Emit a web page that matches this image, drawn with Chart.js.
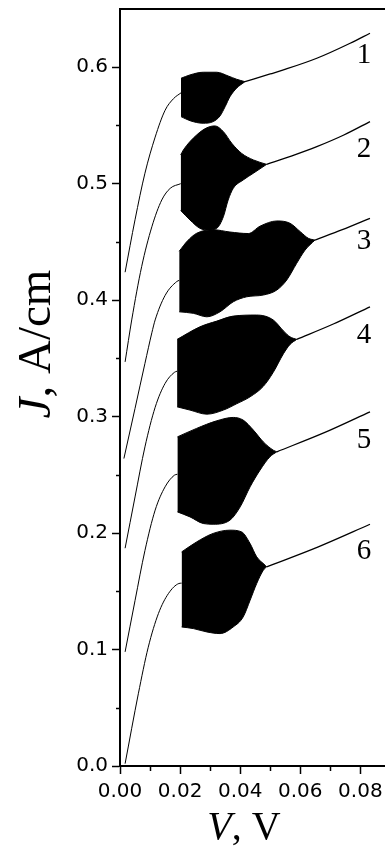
<!DOCTYPE html>
<html><head><meta charset="utf-8">
<script src="https://cdn.jsdelivr.net/npm/chart.js@4.4.0/dist/chart.umd.min.js"></script>
<style>html,body{margin:0;padding:0;background:#fff}canvas{display:block}</style>
</head><body>
<canvas id="c" width="385" height="846"></canvas>
<script>
// ---- axis ticks ----
const yTickValues = [0.0, 0.1, 0.2, 0.3, 0.4, 0.5, 0.6];
const yTickLabels = ['0.0', '0.1', '0.2', '0.3', '0.4', '0.5', '0.6'];
const yMinorTicks = [0.05, 0.15, 0.25, 0.35, 0.45, 0.55];
const xTickValues = [0.00, 0.02, 0.04, 0.06, 0.08];
const xTickLabels = ['0.00', '0.02', '0.04', '0.06', '0.08'];
const xMinorTicks = [0.01, 0.03, 0.05, 0.07];

// ---- curve 1 ----
const rise1  = [[0.0017,0.424],[0.005,0.469],[0.0083,0.509],[0.0117,0.540],[0.015,0.563],[0.0178,0.573],[0.0203,0.578]];
const upper1 = [[0.0203,0.5905],[0.0233,0.5934],[0.0277,0.5957],[0.0322,0.5957],[0.036,0.5925],[0.0388,0.5897],[0.0416,0.5876]];
const lower1 = [[0.0203,0.5576],[0.0233,0.5541],[0.0277,0.5519],[0.031,0.5533],[0.0333,0.5582],[0.035,0.5662],[0.0366,0.5747],[0.0388,0.582],[0.0416,0.5876]];
const tail1  = [[0.0416,0.5876],[0.05,0.5942],[0.0544,0.5977],[0.0655,0.6077],[0.0766,0.6206],[0.0832,0.6292]];
// ---- curve 2 ----
const rise2  = [[0.0017,0.347],[0.0039,0.383],[0.0072,0.4287],[0.0106,0.463],[0.0139,0.486],[0.0167,0.496],[0.0202,0.500]];
const upper2 = [[0.0202,0.5247],[0.0211,0.529],[0.0255,0.5418],[0.0289,0.548],[0.0316,0.5496],[0.0344,0.5447],[0.0372,0.5347],[0.0405,0.526],[0.0444,0.5204],[0.0488,0.5166]];
const lower2 = [[0.0202,0.477],[0.0233,0.4688],[0.0266,0.4617],[0.0294,0.4602],[0.0322,0.4617],[0.0344,0.4716],[0.036,0.486],[0.0377,0.496],[0.041,0.5032],[0.0444,0.509],[0.0488,0.5166]];
const tail2  = [[0.0488,0.5166],[0.057,0.5237],[0.0655,0.5318],[0.0745,0.5418],[0.0832,0.5533]];
// ---- curve 3 ----
const rise3  = [[0.0013,0.264],[0.005,0.307],[0.0083,0.3457],[0.0106,0.372],[0.0117,0.383],[0.015,0.404],[0.0189,0.416],[0.0197,0.417]];
const upper3 = [[0.0197,0.442],[0.0225,0.451],[0.0255,0.4574],[0.031,0.4605],[0.0366,0.4585],[0.0427,0.4572],[0.0466,0.4635],[0.0522,0.468],[0.0566,0.466],[0.06,0.4588],[0.0627,0.4531],[0.0649,0.4516]];
const lower3 = [[0.0197,0.390],[0.0244,0.3887],[0.0289,0.3857],[0.0333,0.39],[0.0377,0.3986],[0.0422,0.4029],[0.0477,0.4044],[0.0522,0.4087],[0.0555,0.4173],[0.0588,0.4316],[0.0616,0.443],[0.0649,0.4516]];
const tail3  = [[0.0649,0.4516],[0.074,0.4605],[0.0832,0.4703]];
// ---- curve 4 ----
const rise4  = [[0.0017,0.187],[0.005,0.231],[0.0083,0.274],[0.0117,0.308],[0.015,0.3285],[0.0181,0.338],[0.019,0.339]];
const upper4 = [[0.019,0.3663],[0.0266,0.3771],[0.0322,0.382],[0.0377,0.3863],[0.0455,0.3872],[0.051,0.383],[0.0544,0.3736],[0.0566,0.3685],[0.0588,0.3663]];
const lower4 = [[0.019,0.3084],[0.0233,0.3056],[0.0289,0.3021],[0.0344,0.3056],[0.0388,0.311],[0.0433,0.317],[0.0477,0.326],[0.051,0.338],[0.0544,0.354],[0.0566,0.362],[0.0588,0.3663]];
const tail4  = [[0.0588,0.3663],[0.071,0.3795],[0.0832,0.3943]];
// ---- curve 5 ----
const rise5  = [[0.0017,0.098],[0.005,0.142],[0.0083,0.185],[0.0117,0.2197],[0.015,0.2397],[0.0181,0.2497],[0.0191,0.2505]];
const upper5 = [[0.0191,0.2826],[0.0255,0.2899],[0.0322,0.2964],[0.0377,0.2993],[0.041,0.297],[0.0444,0.2884],[0.0477,0.2783],[0.051,0.2712],[0.0522,0.2698]];
const lower5 = [[0.0191,0.2182],[0.0233,0.2139],[0.0277,0.2082],[0.031,0.2076],[0.0366,0.2111],[0.04,0.2225],[0.0433,0.2397],[0.0466,0.254],[0.0499,0.2655],[0.0522,0.2698]];
const tail5  = [[0.0522,0.2698],[0.068,0.2862],[0.0832,0.3041]];
// ---- curve 6 ----
const rise6  = [[0.0017,0.002],[0.0061,0.062],[0.0094,0.102],[0.0128,0.131],[0.0161,0.148],[0.0196,0.1567],[0.0205,0.157]];
const upper6 = [[0.0205,0.1838],[0.0255,0.1924],[0.031,0.1997],[0.0366,0.2025],[0.0405,0.201],[0.0433,0.191],[0.0455,0.1796],[0.0483,0.1724],[0.0488,0.171]];
const lower6 = [[0.0205,0.1194],[0.0244,0.118],[0.0289,0.1151],[0.0333,0.1137],[0.0377,0.1194],[0.041,0.128],[0.0433,0.1423],[0.0455,0.1567],[0.0477,0.1681],[0.0488,0.171]];
const tail6  = [[0.0488,0.171],[0.066,0.1882],[0.0832,0.2076]];

// ---- curve labels ----
const curveNames = ['1', '2', '3', '4', '5', '6'];
const curveLabelX = 0.0812;
const curveLabelY = [0.6123, 0.5318, 0.4522, 0.3717, 0.2816, 0.1861];

const curves = [
  [rise1, upper1, lower1, tail1],
  [rise2, upper2, lower2, tail2],
  [rise3, upper3, lower3, tail3],
  [rise4, upper4, lower4, tail4],
  [rise5, upper5, lower5, tail5],
  [rise6, upper6, lower6, tail6]
];

const pts = a => a.map(p => ({x: p[0], y: p[1]}));
const base = {borderColor: '#000', pointRadius: 0, cubicInterpolationMode: 'monotone', fill: false};
const datasets = [];
curves.forEach(([r, u, l, t]) => {
  datasets.push(Object.assign({}, base, {data: pts(r), borderWidth: 1}));
  datasets.push(Object.assign({}, base, {data: pts(u), borderWidth: 1, fill: '+1', backgroundColor: '#000'}));
  datasets.push(Object.assign({}, base, {data: pts(l), borderWidth: 1}));
  datasets.push(Object.assign({}, base, {data: pts(t), borderWidth: 1.3}));
});

const SERIF = "'Liberation Serif', 'Times New Roman', serif";

const decor = {
  id: 'decor',
  afterDraw(chart) {
    const ctx = chart.ctx, xs = chart.scales.x, ys = chart.scales.y, ca = chart.chartArea;
    ctx.save();
    ctx.strokeStyle = '#000';
    // top border
    ctx.lineWidth = 2;
    ctx.beginPath(); ctx.moveTo(ca.left - 1, ca.top); ctx.lineTo(ca.right, ca.top); ctx.stroke();
    // minor ticks
    ctx.lineWidth = 1.5;
    yMinorTicks.forEach(v => {
      const y = Math.round(ys.getPixelForValue(v)) + 0.5;
      ctx.beginPath(); ctx.moveTo(ca.left - 4, y); ctx.lineTo(ca.left, y); ctx.stroke();
    });
    xMinorTicks.forEach(v => {
      const x = Math.round(xs.getPixelForValue(v)) + 0.5;
      ctx.beginPath(); ctx.moveTo(x, ca.bottom); ctx.lineTo(x, ca.bottom + 5); ctx.stroke();
    });
    // curve labels
    ctx.fillStyle = '#000';
    ctx.font = '29px ' + SERIF;
    ctx.textAlign = 'center';
    ctx.textBaseline = 'alphabetic';
    curveNames.forEach((n, i) => {
      ctx.fillText(n, xs.getPixelForValue(curveLabelX), ys.getPixelForValue(curveLabelY[i]) + 10);
    });
    // x title: italic V + ", V"
    ctx.textAlign = 'left';
    const xFontI = 'italic 40px ' + SERIF, xFontR = '40px ' + SERIF;
    ctx.font = xFontI; const w1 = ctx.measureText('V').width;
    ctx.font = xFontR; const w2 = ctx.measureText(', V').width;
    const xc = (ca.left + ca.right) / 2 - 8.5;
    let sx = xc - (w1 + w2) / 2;
    ctx.font = xFontI; ctx.fillText('V', sx, 839);
    ctx.font = xFontR; ctx.fillText(', V', sx + w1, 839);
    // y title: italic J + ", A/cm"
    const yFontI = 'italic 47px ' + SERIF, yFontR = '47px ' + SERIF;
    ctx.font = yFontI; const v1 = ctx.measureText('J').width;
    ctx.font = yFontR; const v2 = ctx.measureText(', A/cm').width;
    ctx.translate(50, 344);
    ctx.rotate(-Math.PI / 2);
    const sy = -(v1 + v2) / 2;
    ctx.font = yFontI; ctx.fillText('J', sy, 0);
    ctx.font = yFontR; ctx.fillText(', A/cm', sy + v1, 0);
    ctx.restore();
  }
};

new Chart(document.getElementById('c'), {
  type: 'line',
  data: {datasets},
  options: {
    responsive: false,
    devicePixelRatio: 1,
    animation: false,
    events: [],
    layout: {padding: {top: 9, left: 0, right: 0, bottom: 0}},
    plugins: {legend: {display: false}, tooltip: {enabled: false}, filler: {propagate: false}},
    scales: {
      x: {
        type: 'linear', min: 0, max: 0.0882,
        afterFit: s => { s.height = 80; s.paddingLeft = 0; s.paddingRight = 0; },
        afterBuildTicks: s => { s.ticks = xTickValues.map(v => ({value: v})); },
        ticks: {
          autoSkip: false, maxRotation: 0, padding: 6, color: '#000',
          font: {family: "'DejaVu Sans'", size: 20},
          callback: (v, i) => xTickLabels[i]
        },
        grid: {drawOnChartArea: false, drawTicks: true, tickLength: 8, tickWidth: 1.5, tickColor: '#000'},
        border: {display: true, color: '#000', width: 2}
      },
      y: {
        type: 'linear', min: 0, max: 0.65,
        afterFit: s => { s.width = 120; s.paddingTop = 0; s.paddingBottom = 0; },
        afterBuildTicks: s => { s.ticks = yTickValues.map(v => ({value: v})); },
        ticks: {
          autoSkip: false, padding: 4, color: '#000',
          font: {family: "'DejaVu Sans'", size: 20},
          callback: (v, i) => yTickLabels[i]
        },
        grid: {drawOnChartArea: false, drawTicks: true, tickLength: 8, tickWidth: 1.5, tickColor: '#000'},
        border: {display: true, color: '#000', width: 2}
      }
    }
  },
  plugins: [decor]
});
</script>
</body></html>
